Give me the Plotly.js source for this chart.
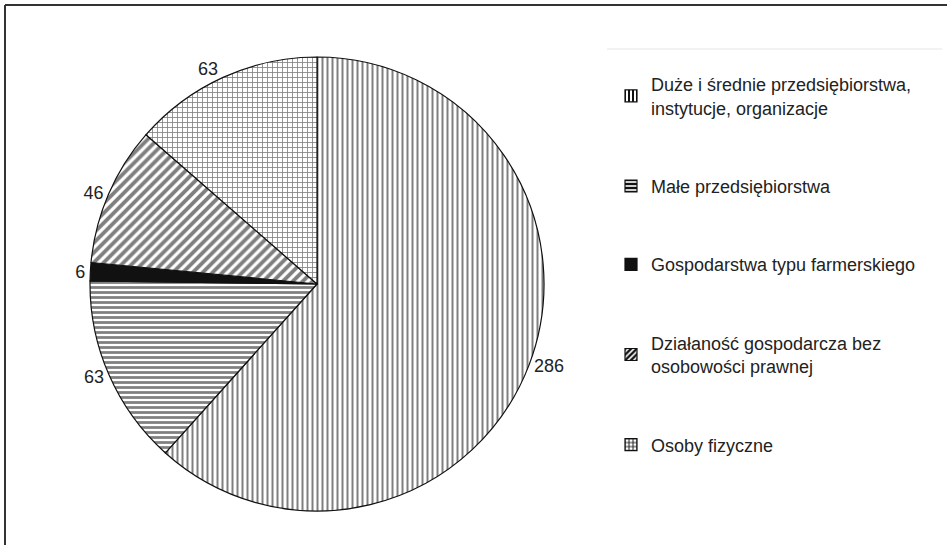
<!DOCTYPE html>
<html>
<head>
<meta charset="utf-8">
<script src="https://cdn.plot.ly/plotly-3.0.1.min.js"></script>
<style>html,body{margin:0;padding:0;background:#fff;}#chart{width:947px;height:545px;}</style>
</head>
<body>
<div id="chart"></div>
<script>
// Data
var categories = [
  "Duże i średnie przedsiębiorstwa,<br>instytucje, organizacje",
  "Małe przedsiębiorstwa",
  "Gospodarstwa typu farmerskiego",
  "Działaność gospodarcza bez<br>osobowości prawnej",
  "Osoby fizyczne"
];
var values = [286, 63, 6, 46, 63];

// Styles
var W = 947, H = 545;
var patterns = [
  {shape: "|", size: 5, solidity: 0.4, fgcolor: "#000", bgcolor: "#fff"},
  {shape: "-", size: 5, solidity: 0.55, fgcolor: "#000", bgcolor: "#fff"},
  {shape: "", fgcolor: "#111", bgcolor: "#111"},
  {shape: "/", size: 7, solidity: 0.55, fgcolor: "#000", bgcolor: "#fff"},
  {shape: "+", size: 5, solidity: 0.3, fgcolor: "#000", bgcolor: "#fff"}
];
var fills = ["#fff", "#fff", "#111", "#fff", "#fff"];

var cx = 317, cy = 284, R = 227;
var FONT = "Liberation Sans, Arial, sans-serif";

var pie = {
  type: "pie",
  labels: categories,
  values: values,
  sort: false,
  direction: "clockwise",
  rotation: 0,
  showlegend: false,
  textposition: "outside",
  texttemplate: "%{value}",
  textfont: {family: FONT, size: 18, color: "#222"},
  marker: {
    colors: fills,
    line: {color: "#111", width: 1.2},
    pattern: {
      shape: patterns.map(function(p){return p.shape;}),
      size: patterns.map(function(p){return p.size || 5;}),
      solidity: patterns.map(function(p){return p.solidity || 0.3;}),
      fgcolor: patterns.map(function(p){return p.fgcolor;}),
      bgcolor: patterns.map(function(p){return p.bgcolor;}),
      fillmode: "overlay"
    }
  },
  domain: {x: [(cx - R) / W, (cx + R) / W], y: [(H - cy - R) / H, (H - cy + R) / H]},
  hoverinfo: "label+value"
};

var traces = [pie];
categories.forEach(function(c, i){
  var p = patterns[i];
  var mk = {color: fills[i], line: {color: "#111", width: 1.2}};
  if (p.shape) mk.pattern = {shape: p.shape, size: 5, solidity: Math.min(0.6, p.solidity + 0.1), fgcolor: "#111", bgcolor: "#fff"};
  traces.push({
    type: "bar", x: [null], y: [null], name: c, legendgroup: "g" + i,
    showlegend: true, marker: mk, hoverinfo: "skip"
  });
});

var layout = {
  width: W, height: H,
  margin: {l: 0, r: 0, t: 0, b: 0},
  paper_bgcolor: "#fff", plot_bgcolor: "#fff",
  xaxis: {visible: false}, yaxis: {visible: false},
  font: {family: FONT, size: 18, color: "#222"},
  legend: {
    x: 611 / W, xanchor: "left", y: 1 - 66 / H, yanchor: "top",
    tracegroupgap: 52, bgcolor: "rgba(0,0,0,0)",
    font: {family: FONT, size: 18, color: "#222"}
  },
  shapes: [
    {type: "line", xref: "paper", yref: "paper", x0: 5 / W, x1: 1, y0: 1 - 5 / H, y1: 1 - 5 / H, line: {color: "#333", width: 2}},
    {type: "line", xref: "paper", yref: "paper", x0: 5 / W, x1: 5 / W, y0: 0, y1: 1 - 5 / H, line: {color: "#333", width: 2}},
    {type: "line", xref: "paper", yref: "paper", x0: 607 / W, x1: 942 / W, y0: 1 - 49 / H, y1: 1 - 49 / H, line: {color: "#e6e6e6", width: 1}}
  ]
};

Plotly.newPlot("chart", traces, layout, {displayModeBar: false, staticPlot: true});
</script>
</body>
</html>
